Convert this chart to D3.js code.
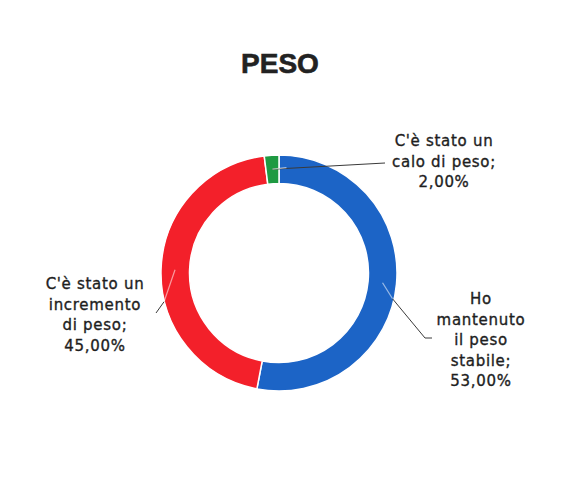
<!DOCTYPE html>
<html>
<head>
<meta charset="utf-8">
<script src="https://cdn.jsdelivr.net/npm/d3@7"></script>
<style>
  html, body { margin: 0; padding: 0; background: #ffffff; }
  svg { display: block; }
</style>
</head>
<body>
<svg id="chart" width="563" height="495"></svg>
<script>
// ---- data ----
const title = "PESO";
const categories = ["Ho mantenuto il peso stabile", "C'è stato un incremento di peso", "C'è stato un calo di peso"];
const values = [53.00, 45.00, 2.00];
const labelLines = [
  ["Ho", "mantenuto", "il peso", "stabile;", "53,00%"],
  ["C'è stato un", "incremento", "di peso;", "45,00%"],
  ["C'è stato un", "calo di peso;", "2,00%"]
];
const colors = ["#1c64c6", "#f3202a", "#1f9a42"];

// ---- layout ----
const W = 563, H = 495;
const cx = 279, cy = 273;
const rOuter = 118, rInner = 89.5, rLead = 104;
const lineH = 20.5;

const svg = d3.select("#chart");

svg.append("text")
  .attr("x", 280).attr("y", 73)
  .attr("text-anchor", "middle")
  .attr("font-family", "'Liberation Sans', Arial, sans-serif")
  .attr("font-weight", "bold")
  .attr("font-size", 28)
  .attr("fill", "#222")
  .attr("stroke", "#222")
  .attr("stroke-width", 0.6)
  .text(title);

const pie = d3.pie().sort(null).value(d => d)(values);
const arc = d3.arc().innerRadius(rInner).outerRadius(rOuter);

const g = svg.append("g").attr("transform", `translate(${cx},${cy})`);

g.selectAll("path.slice")
  .data(pie)
  .join("path")
  .attr("class", "slice")
  .attr("d", arc)
  .attr("fill", (d, i) => colors[i])
  .attr("stroke", "#ffffff")
  .attr("stroke-width", 1.5);

function polar(a, r) { return [r * Math.sin(a), -r * Math.cos(a)]; }
const mids = pie.map(d => (d.startAngle + d.endAngle) / 2);

// first bend relative to start point, later bends relative to chart center
const leaderBends = [
  [[10, 16], [146, 65], [153, 65]],
  [[-11, 32], [-123, 40]],
  [[106, -110]]
];
const lightSegs = [1, 1, 0];

pie.forEach((d, i) => {
  const p0 = polar(mids[i], rLead);
  const pts = [p0];
  leaderBends[i].forEach((b, k) => {
    if (i === 2 || k > 0) pts.push(b); else pts.push([p0[0] + b[0], p0[1] + b[1]]);
  });
  const nLight = lightSegs[i];
  if (nLight > 0) {
    g.append("path")
      .attr("d", d3.line()(pts.slice(0, nLight + 1)))
      .attr("fill", "none")
      .attr("stroke", "#ffffff")
      .attr("stroke-opacity", 0.55)
      .attr("stroke-width", 1.2);
  }
  g.append("path")
    .attr("d", d3.line()(pts.slice(nLight)))
    .attr("fill", "none")
    .attr("stroke", "#3a3a3a")
    .attr("stroke-width", 1);
  if (i === 2) {
    g.append("path")
      .attr("d", d3.line()([p0, [p0[0] + 14, p0[1] - 1.5]]))
      .attr("fill", "none")
      .attr("stroke", "#ffffff")
      .attr("stroke-opacity", 0.6)
      .attr("stroke-width", 1.2);
  }
});

const labelPos = [[481, 299], [95, 284], [444, 141]];
labelLines.forEach((lines, i) => {
  const t = svg.append("text")
    .attr("text-anchor", "middle")
    .attr("font-family", "'DejaVu Sans', sans-serif")
    .attr("font-size", 15)
    .attr("letter-spacing", 0.7)
    .attr("fill", "#1e1e1e")
    .attr("stroke", "#1e1e1e")
    .attr("stroke-width", 0.35);
  lines.forEach((s, k) => {
    t.append("tspan")
      .attr("x", labelPos[i][0])
      .attr("y", labelPos[i][1] + k * lineH)
      .attr("dominant-baseline", "central")
      .text(s);
  });
});
</script>
</body>
</html>
